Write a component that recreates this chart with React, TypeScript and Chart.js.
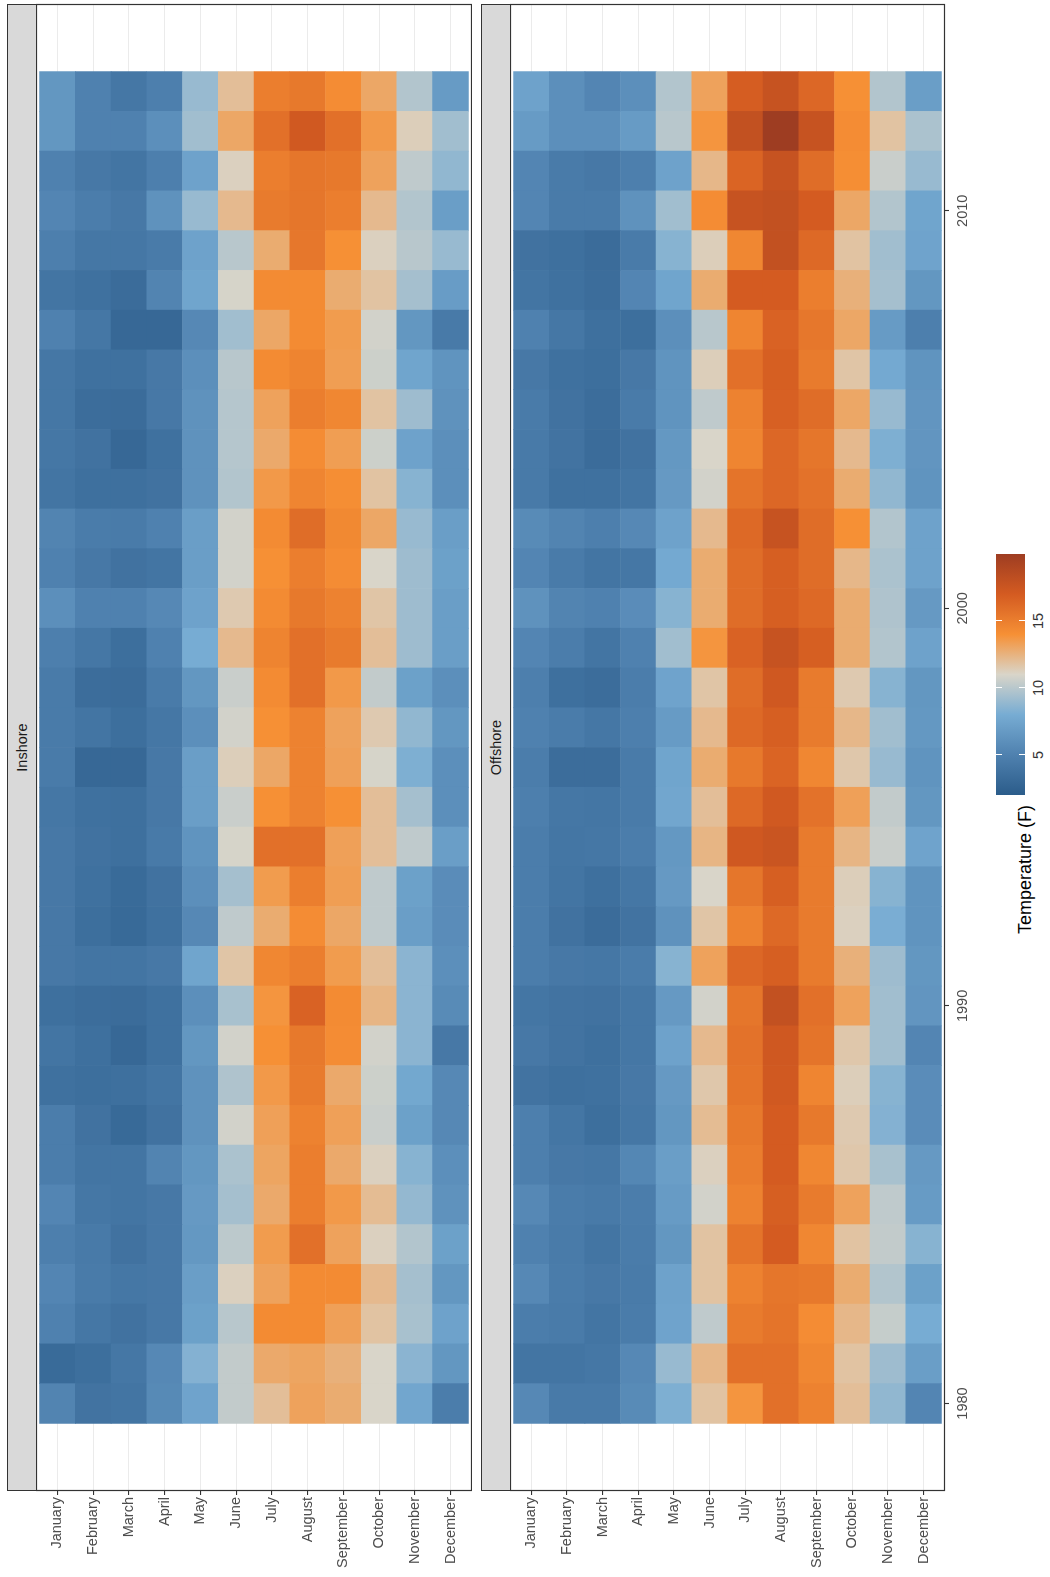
import React, { useEffect, useRef } from "react";
import { Chart, registerables } from "chart.js";

Chart.register(...registerables);

const MONTHS = ["January", "February", "March", "April", "May", "June", "July", "August", "September", "October", "November", "December"];
const YEARS = [1980, 1981, 1982, 1983, 1984, 1985, 1986, 1987, 1988, 1989, 1990, 1991, 1992, 1993, 1994, 1995, 1996, 1997, 1998, 1999, 2000, 2001, 2002, 2003, 2004, 2005, 2006, 2007, 2008, 2009, 2010, 2011, 2012, 2013];
const YEAR_TICKS = [1980, 1990, 2000, 2010];
const LEGEND_TICKS = [5, 10, 15];
const PALETTE = ["#2b5c8a", "#4f81af", "#77acd3", "#d9d5c9", "#f69035", "#d45b21", "#9e3d22"];
const TEMP_MIN = 2.0;
const TEMP_MAX = 20.0;

// rows: one per year (1980 -> 2013), columns January -> December
const INSHORE = [
  [5.2, 3.9, 4.0, 5.6, 7.4, 10.3, 12.0, 13.2, 12.8, 11.0, 7.6, 4.7],
  [3.2, 3.5, 4.2, 5.5, 8.4, 10.3, 12.9, 13.1, 12.6, 11.0, 8.6, 6.5],
  [5.0, 4.2, 3.8, 4.3, 7.2, 10.0, 14.3, 14.3, 13.3, 11.8, 9.5, 7.3],
  [5.3, 4.5, 4.2, 4.3, 7.0, 11.2, 13.2, 14.3, 14.3, 12.2, 9.4, 6.5],
  [4.8, 4.4, 3.8, 4.3, 6.6, 10.1, 13.5, 15.8, 13.2, 11.2, 9.8, 7.2],
  [5.3, 4.2, 4.0, 4.3, 6.7, 9.4, 12.9, 15.0, 13.6, 12.1, 8.9, 6.2],
  [4.7, 4.0, 4.0, 5.2, 6.5, 9.6, 13.1, 15.0, 12.9, 11.2, 8.5, 6.0],
  [4.7, 3.8, 3.1, 3.8, 6.2, 10.8, 13.3, 14.8, 13.3, 10.5, 7.2, 5.5],
  [3.7, 3.5, 3.6, 4.0, 6.2, 9.7, 13.6, 15.2, 12.9, 10.6, 7.7, 5.5],
  [4.0, 3.6, 3.0, 3.7, 6.5, 10.8, 14.0, 15.3, 14.2, 10.8, 8.6, 4.3],
  [3.6, 3.4, 3.3, 3.7, 6.0, 9.5, 13.8, 16.6, 14.3, 12.4, 8.6, 5.7],
  [4.3, 4.0, 4.0, 4.3, 7.5, 11.7, 14.5, 15.0, 13.5, 12.0, 8.6, 6.0],
  [4.3, 3.5, 3.1, 3.7, 5.5, 10.2, 12.8, 14.2, 13.0, 10.2, 7.0, 5.8],
  [4.3, 3.7, 3.2, 3.8, 6.0, 9.4, 13.5, 15.0, 13.4, 10.2, 7.2, 5.8],
  [4.3, 3.8, 3.6, 4.4, 6.3, 10.9, 15.8, 15.8, 13.3, 12.0, 10.2, 7.0],
  [4.2, 3.7, 3.6, 4.3, 7.0, 10.5, 14.0, 14.8, 14.0, 12.0, 9.4, 6.0],
  [4.5, 3.0, 3.0, 4.3, 7.0, 11.3, 13.0, 14.8, 13.3, 10.9, 8.2, 6.0],
  [4.5, 4.0, 3.5, 4.2, 6.0, 10.8, 14.0, 14.8, 13.2, 11.5, 8.8, 6.5],
  [4.5, 3.4, 3.3, 4.5, 6.5, 10.5, 14.3, 15.8, 13.6, 10.3, 7.2, 6.0],
  [4.8, 4.2, 3.5, 5.0, 8.0, 12.2, 14.7, 15.8, 15.2, 12.0, 9.2, 7.0],
  [6.0, 5.0, 5.0, 5.5, 7.3, 11.5, 14.3, 15.3, 14.8, 11.7, 9.2, 7.0],
  [5.0, 4.3, 3.8, 4.0, 7.0, 10.8, 14.0, 15.0, 14.2, 11.0, 9.2, 7.2],
  [5.2, 4.6, 4.5, 5.0, 7.0, 10.8, 14.3, 16.0, 14.4, 13.0, 9.0, 7.0],
  [4.0, 3.6, 3.6, 3.8, 6.2, 9.8, 13.6, 14.6, 14.1, 11.8, 8.5, 6.0],
  [4.2, 3.8, 3.0, 3.7, 6.2, 9.9, 12.9, 14.2, 13.4, 10.6, 7.3, 6.0],
  [4.2, 3.4, 3.3, 4.3, 6.2, 9.9, 13.2, 15.0, 14.5, 11.8, 9.2, 6.2],
  [4.2, 3.7, 3.7, 4.3, 6.0, 10.0, 14.3, 14.7, 13.4, 10.6, 7.5, 6.3],
  [5.0, 4.2, 3.0, 3.0, 5.5, 9.3, 13.0, 14.3, 13.5, 10.8, 6.5, 4.4],
  [4.0, 3.7, 3.3, 5.2, 7.5, 10.9, 14.3, 14.3, 12.8, 11.8, 9.4, 6.9],
  [4.8, 4.2, 4.2, 4.5, 7.3, 10.0, 12.8, 15.4, 14.0, 11.2, 10.0, 9.0],
  [5.3, 4.7, 4.3, 6.2, 9.0, 12.2, 15.2, 15.5, 15.0, 12.2, 9.8, 7.0],
  [5.0, 4.3, 4.0, 4.8, 7.3, 11.2, 15.0, 15.5, 15.3, 13.2, 10.2, 8.8],
  [6.5, 5.0, 5.0, 6.0, 9.3, 13.0, 15.8, 17.2, 15.8, 13.6, 11.3, 9.3],
  [6.5, 5.0, 4.2, 4.8, 9.0, 12.0, 15.0, 15.3, 14.2, 13.0, 9.8, 6.8],
];

const OFFSHORE = [
  [5.5, 4.4, 4.4, 5.7, 8.2, 11.8, 13.8, 15.8, 14.8, 12.0, 8.8, 5.3],
  [4.0, 4.0, 4.2, 5.5, 9.0, 12.3, 15.8, 15.8, 14.5, 11.8, 9.2, 7.0],
  [4.7, 4.5, 4.0, 4.6, 7.4, 10.2, 15.2, 15.6, 14.2, 12.3, 10.4, 8.0],
  [5.5, 4.6, 4.3, 4.5, 7.3, 11.8, 14.8, 15.5, 15.3, 12.8, 9.8, 7.2],
  [5.0, 4.5, 4.0, 4.6, 6.5, 11.8, 15.6, 17.0, 14.5, 11.8, 10.3, 8.5],
  [5.5, 4.6, 4.4, 4.7, 6.8, 10.8, 14.8, 16.8, 15.2, 13.2, 10.2, 6.8],
  [4.8, 4.3, 4.2, 5.4, 7.0, 11.2, 15.1, 17.0, 14.5, 11.6, 9.5, 6.7],
  [4.8, 4.1, 3.5, 4.2, 6.5, 12.1, 15.3, 17.0, 15.3, 11.5, 8.4, 5.8],
  [3.9, 3.6, 3.7, 4.3, 6.7, 11.6, 15.6, 17.2, 14.6, 11.3, 8.5, 5.8],
  [4.3, 3.9, 3.6, 4.2, 7.3, 12.2, 15.7, 17.3, 15.6, 11.6, 9.3, 5.3],
  [4.1, 3.9, 3.8, 4.2, 6.7, 10.8, 15.5, 18.0, 15.8, 13.2, 9.3, 6.4],
  [4.7, 4.3, 4.2, 4.6, 8.5, 13.2, 16.3, 16.8, 15.2, 12.6, 9.2, 6.5],
  [4.7, 3.8, 3.3, 3.9, 6.2, 11.7, 14.8, 16.2, 15.2, 11.2, 8.1, 6.3],
  [4.7, 4.0, 3.6, 4.2, 6.7, 11.0, 15.5, 16.8, 15.2, 11.3, 8.5, 6.3],
  [4.7, 4.1, 4.2, 4.7, 6.6, 12.4, 17.3, 17.6, 15.2, 12.4, 10.5, 7.4],
  [4.8, 4.2, 4.1, 4.5, 7.6, 12.0, 16.2, 17.2, 15.7, 13.3, 10.3, 6.5],
  [4.7, 3.4, 3.4, 4.5, 7.5, 12.8, 15.3, 16.5, 14.5, 11.6, 9.0, 6.3],
  [5.0, 4.6, 4.2, 4.8, 6.8, 12.2, 16.2, 16.8, 15.2, 12.3, 9.3, 6.6],
  [4.8, 3.6, 3.4, 4.7, 7.4, 11.7, 16.0, 17.3, 15.2, 11.5, 8.5, 6.5],
  [5.3, 4.7, 4.0, 5.0, 9.3, 13.8, 16.6, 17.8, 16.8, 12.8, 9.8, 7.3],
  [6.2, 5.2, 5.0, 5.8, 8.5, 12.8, 16.0, 16.8, 16.2, 12.8, 9.7, 6.7],
  [5.3, 4.5, 4.0, 4.2, 7.8, 12.8, 16.0, 16.8, 16.0, 12.3, 9.6, 7.3],
  [5.7, 5.2, 4.8, 5.5, 7.3, 12.2, 16.2, 17.8, 16.0, 14.0, 9.8, 7.3],
  [4.4, 3.7, 3.7, 4.0, 6.7, 10.8, 15.6, 16.3, 15.7, 12.8, 8.8, 6.3],
  [4.4, 3.9, 3.3, 3.8, 6.6, 11.0, 14.6, 16.3, 15.5, 12.2, 8.2, 6.4],
  [4.5, 3.8, 3.4, 4.5, 6.3, 10.2, 14.8, 16.7, 16.0, 13.0, 9.0, 6.4],
  [4.3, 3.7, 3.5, 4.3, 6.3, 11.3, 15.8, 16.8, 15.2, 11.7, 7.8, 6.3],
  [5.0, 4.2, 3.6, 3.5, 6.0, 10.0, 14.6, 16.6, 15.4, 13.0, 6.8, 4.8],
  [4.0, 3.7, 3.4, 5.3, 7.5, 12.8, 17.0, 17.0, 15.0, 12.6, 9.4, 6.5],
  [3.8, 3.6, 3.3, 4.5, 8.5, 11.3, 14.5, 18.0, 16.2, 11.8, 9.3, 7.4],
  [5.3, 4.5, 4.5, 6.2, 9.3, 14.2, 17.8, 18.0, 17.0, 13.0, 9.8, 7.5],
  [5.3, 4.5, 4.3, 4.8, 7.3, 12.3, 16.5, 17.8, 16.0, 14.1, 10.5, 9.0],
  [6.8, 6.0, 6.0, 6.8, 10.0, 13.8, 18.0, 20.0, 17.8, 14.2, 11.8, 9.6],
  [7.3, 6.0, 5.3, 6.0, 9.8, 13.2, 16.9, 17.8, 16.3, 14.0, 9.8, 7.0],
];

const FONT = '"Liberation Sans", Arial, Helvetica, sans-serif';

function hexToRgb(h: string): number[] {
  return [parseInt(h.slice(1, 3), 16), parseInt(h.slice(3, 5), 16), parseInt(h.slice(5, 7), 16)];
}

function tempColor(v: number): string {
  const t = Math.max(0, Math.min(1, (v - TEMP_MIN) / (TEMP_MAX - TEMP_MIN))) * (PALETTE.length - 1);
  const i = Math.min(PALETTE.length - 2, Math.floor(t));
  const f = t - i;
  const a = hexToRgb(PALETTE[i]);
  const b = hexToRgb(PALETTE[i + 1]);
  const c = a.map((av, k) => Math.round(av + (b[k] - av) * f));
  return `rgb(${c[0]},${c[1]},${c[2]})`;
}

// Layout in the un-rotated frame (the whole figure is turned 90° counter-clockwise)
const W = 1577;
const H = 1050;
const AXIS_W = 86;
const PAD_R = 4;
const STRIP_H = 29;
const IN_STRIP_TOP = 7;
const IN_PLOT_TOP = 36;
const IN_PLOT_H = 436;
const OFF_STRIP_TOP = 481;
const OFF_PLOT_TOP = 510;
const OFF_PLOT_H = 435;
const X_AXIS_H = 30;

const panelBorder = {
  id: "panelBorder",
  afterDraw(chart: any) {
    const { ctx, chartArea: a } = chart;
    ctx.save();
    ctx.strokeStyle = "#333333";
    ctx.lineWidth = 1.2;
    ctx.strokeRect(a.left + 0.5, a.top + 0.5, a.right - a.left - 1, a.bottom - a.top - 1);
    ctx.restore();
  },
};

function makeChart(canvas: HTMLCanvasElement, rows: number[][], showYears: boolean) {
  const datasets = YEARS.map((yr, yi) => ({
    data: MONTHS.map((_, mi) => ({ x: [yr - 0.5, yr + 0.5], y: mi })),
    backgroundColor: MONTHS.map((_, mi) => tempColor(rows[yi][mi])),
    borderWidth: 0,
    grouped: false,
    barPercentage: 1,
    categoryPercentage: 1,
  }));
  const tickFont = { family: FONT, size: 14.5 };
  return new Chart(canvas, {
    type: "bar",
    data: { datasets } as any,
    options: {
      indexAxis: "y",
      animation: false,
      responsive: false,
      maintainAspectRatio: false,
      events: [],
      layout: { padding: { left: 0, right: PAD_R, top: 0, bottom: 0 } },
      plugins: { legend: { display: false }, tooltip: { enabled: false } },
      scales: {
        x: {
          type: "linear",
          min: 1977.8,
          max: 2015.2,
          offset: false,
          display: showYears,
          afterBuildTicks: (s: any) => {
            s.ticks = YEAR_TICKS.map((v) => ({ value: v }));
          },
          afterFit: (s: any) => {
            if (showYears) s.height = X_AXIS_H;
            s.paddingLeft = 0;
            s.paddingRight = 0;
          },
          grid: { drawOnChartArea: false, offset: false, tickLength: 4, tickColor: "#333333", tickWidth: 1.1 },
          border: { display: false },
          ticks: { font: tickFont, color: "#4d4d4d", padding: 5, maxRotation: 0, autoSkip: false, callback: (v: any) => String(v) },
        },
        y: {
          type: "linear",
          min: -0.6,
          max: 11.6,
          reverse: true,
          offset: false,
          afterBuildTicks: (s: any) => {
            s.ticks = MONTHS.map((_, i) => ({ value: i }));
          },
          afterFit: (s: any) => {
            s.width = AXIS_W;
            s.paddingTop = 0;
            s.paddingBottom = 0;
          },
          grid: { color: "#ebebeb", lineWidth: 1.1, offset: false, tickLength: 4, tickColor: "#333333", tickWidth: 1.1 },
          border: { display: false },
          ticks: { font: tickFont, color: "#4d4d4d", padding: 2, autoSkip: false, callback: (v: any) => MONTHS[Math.round(Number(v))] },
        },
      },
    } as any,
    plugins: [panelBorder],
  });
}

function Strip({ top, label }: { top: number; label: string }) {
  return (
    <div
      style={{
        position: "absolute",
        left: AXIS_W,
        top,
        width: W - PAD_R - AXIS_W,
        height: STRIP_H + 1,
        boxSizing: "border-box",
        background: "#d9d9d9",
        border: "1.2px solid #333333",
        display: "flex",
        alignItems: "center",
        justifyContent: "center",
        fontFamily: FONT,
        fontSize: 14.5,
        color: "#1a1a1a",
      }}
    >
      {label}
    </div>
  );
}

function Legend() {
  const barLeft = 782;
  const barW = 241;
  const barTop = 996;
  const barH = 29;
  const pos = (v: number) => ((v - TEMP_MIN) / (TEMP_MAX - TEMP_MIN)) * barW;
  return (
    <>
      <div
        style={{
          position: "absolute",
          right: W - 772,
          top: 1014,
          fontFamily: FONT,
          fontSize: 18,
          lineHeight: "22px",
          color: "#000000",
          whiteSpace: "nowrap",
        }}
      >
        Temperature (F)
      </div>
      <div
        style={{
          position: "absolute",
          left: barLeft,
          top: barTop,
          width: barW,
          height: barH,
          background: `linear-gradient(to right, ${PALETTE.join(", ")})`,
        }}
      >
        {LEGEND_TICKS.map((t) => (
          <React.Fragment key={t}>
            <div style={{ position: "absolute", left: pos(t) - 0.5, top: 0, width: 1, height: barH / 5, background: "#ffffff" }} />
            <div style={{ position: "absolute", left: pos(t) - 0.5, bottom: 0, width: 1, height: barH / 5, background: "#ffffff" }} />
          </React.Fragment>
        ))}
      </div>
      {LEGEND_TICKS.map((t) => (
        <div
          key={"l" + t}
          style={{
            position: "absolute",
            left: barLeft + pos(t) - 20,
            width: 40,
            top: barTop + barH + 5,
            textAlign: "center",
            fontFamily: FONT,
            fontSize: 14.5,
            lineHeight: "17px",
            color: "#333333",
          }}
        >
          {t}
        </div>
      ))}
    </>
  );
}

export default function App() {
  const inRef = useRef<HTMLCanvasElement | null>(null);
  const offRef = useRef<HTMLCanvasElement | null>(null);

  useEffect(() => {
    const c1 = makeChart(inRef.current as HTMLCanvasElement, INSHORE, false);
    const c2 = makeChart(offRef.current as HTMLCanvasElement, OFFSHORE, true);
    return () => {
      c1.destroy();
      c2.destroy();
    };
  }, []);

  return (
    <div
      style={{
        position: "absolute",
        left: 0,
        top: 0,
        width: W,
        height: H,
        background: "#ffffff",
        transformOrigin: "0 0",
        transform: `translateY(${W}px) rotate(-90deg)`,
        overflow: "hidden",
      }}
    >
      <Strip top={IN_STRIP_TOP} label="Inshore" />
      <canvas
        ref={inRef}
        width={W}
        height={IN_PLOT_H}
        style={{ position: "absolute", left: 0, top: IN_PLOT_TOP, width: W, height: IN_PLOT_H }}
      />
      <Strip top={OFF_STRIP_TOP} label="Offshore" />
      <canvas
        ref={offRef}
        width={W}
        height={OFF_PLOT_H + X_AXIS_H}
        style={{ position: "absolute", left: 0, top: OFF_PLOT_TOP, width: W, height: OFF_PLOT_H + X_AXIS_H }}
      />
      <Legend />
    </div>
  );
}
